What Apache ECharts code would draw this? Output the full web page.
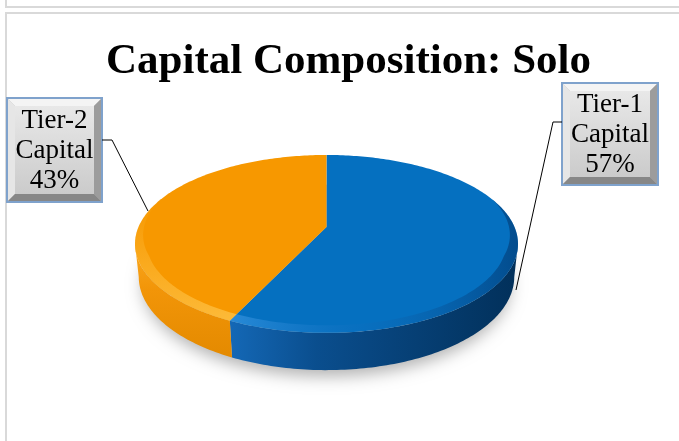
<!DOCTYPE html>
<html>
<head>
<meta charset="utf-8">
<script src="https://cdn.jsdelivr.net/npm/echarts@6/dist/echarts.min.js"></script>
<style>
html, body { margin: 0; padding: 0; background: #fff; }
#chart { width: 679px; height: 441px; }
</style>
</head>
<body>
<div id="chart"></div>
<script>
var chart = echarts.init(document.getElementById('chart'));

// data
var categories = ['Tier-1 Capital', 'Tier-2 Capital'];
var values = [57, 43];
var titleText = 'Capital Composition: Solo';

var total = values.reduce(function (a, b) { return a + b; }, 0);

// 3D pie with a little perspective (angles clockwise from 12 o'clock)
var cx = 326.5, cy = 227, R = 188, H = 37;
var sinP = 0.456, cosP = 0.89, K = 4.68 * R;

var topColors = ['#0570c0', '#f79800'];
var sideFills = [
    new echarts.graphic.LinearGradient(0, 0, 1, 0, [
        { offset: 0, color: '#1468b6' },
        { offset: 0.3, color: '#0a4e8e' },
        { offset: 1, color: '#02305a' }
    ]),
    new echarts.graphic.LinearGradient(0, 0, 0, 1, [
        { offset: 0, color: '#fbaa22' },
        { offset: 0.4, color: '#f29508' },
        { offset: 1, color: '#e48a00' }
    ])
];
var rimFills = [
    new echarts.graphic.LinearGradient(0, 0, 1, 0, [
        { offset: 0, color: 'rgba(70,160,235,0.55)' },
        { offset: 0.45, color: 'rgba(20,110,190,0.2)' },
        { offset: 1, color: 'rgba(0,40,90,0.5)' }
    ]),
    new echarts.graphic.LinearGradient(0, 0, 0, 1, [
        { offset: 0, color: 'rgba(255,200,80,0)' },
        { offset: 1, color: 'rgba(255,200,80,0.7)' }
    ])
];

function proj(a, down, r) {
    r = r || R;
    var X = r * Math.sin(a), Z = -r * Math.cos(a);
    var d = Z * cosP - down * sinP;
    var sc = K / (K - d);
    return [cx + X * sc, cy + (Z * sinP + down * cosP) * sc];
}
function arc(a0, a1, down, r) {
    var n = Math.max(2, Math.ceil(Math.abs(a1 - a0) / (Math.PI / 180)));
    var pts = [];
    for (var k = 0; k <= n; k++) {
        var a = a0 + (a1 - a0) * k / n;
        pts.push(proj(a, down, typeof r === 'function' ? r(a) : r));
    }
    return pts;
}
// silhouette angles (left/right extremes of the cylinder)
function extreme(from, to, sign) {
    var best = from, bx = -Infinity;
    for (var a = from; a <= to; a += 0.002) {
        var x = sign * proj(a, H / 2)[0];
        if (x > bx) { bx = x; best = a; }
    }
    return best;
}
var wallFrom = extreme(Math.PI / 2 - 0.5, Math.PI / 2 + 0.5, 1);
var wallTo = extreme(Math.PI * 1.5 - 0.5, Math.PI * 1.5 + 0.5, -1);

// rim width tapers to nothing at the back
var rimFrom = Math.PI / 2 - 0.35, rimTo = Math.PI * 1.5 + 0.35;
function rimInner(a) {
    var t = Math.min(1, (a - rimFrom) / 0.7, (rimTo - a) / 0.7);
    return R - 11 * Math.max(0, t);
}

function renderItem(params, api) {
    var i = params.dataIndex;
    var before = 0;
    for (var j = 0; j < i; j++) before += values[j];
    var a0 = before / total * Math.PI * 2;
    var a1 = (before + api.value(0)) / total * Math.PI * 2;
    var children = [];

    if (i === 0) {
        // soft shadow under the whole pie
        children.push({
            type: 'polygon', z2: 0,
            shape: { points: arc(0, Math.PI * 2, H, R - 4) },
            style: { fill: '#c8c8c8', shadowBlur: 16, shadowColor: 'rgba(0,0,0,0.3)', shadowOffsetY: 9 }
        });
    }

    // outer wall, visible part only
    var s = Math.max(a0, wallFrom), e = Math.min(a1, wallTo);
    if (s < e) {
        children.push({
            type: 'polygon', z2: 2,
            shape: { points: arc(s, e, 0).concat(arc(e, s, H)) },
            style: { fill: sideFills[i] }
        });
    }

    // top face
    children.push({
        type: 'polygon', z2: 5,
        shape: { points: [proj(0, 0, 0.0001)].concat(arc(a0, a1, 0)) },
        style: { fill: topColors[i] }
    });

    // bevel rim on the front edge of the top face
    var rs = Math.max(a0, rimFrom), re = Math.min(a1, rimTo);
    if (rs < re) {
        children.push({
            type: 'polygon', z2: 6,
            shape: { points: arc(rs, re, 0).concat(arc(re, rs, 0, rimInner)) },
            style: { fill: rimFills[i] }
        });
    }

    return { type: 'group', children: children };
}

// bevelled label box
function labelBox(x, y, w, h, text) {
    var b = 8;
    return {
        type: 'group',
        z: 10,
        children: [
            { type: 'rect', shape: { x: x, y: y, width: w, height: h },
              style: { fill: '#bdbdbd' } },
            { type: 'polygon', shape: { points: [[x, y], [x + w, y], [x + w - b, y + b], [x + b, y + b]] },
              style: { fill: '#f4f4f4' } },
            { type: 'polygon', shape: { points: [[x, y], [x + b, y + b], [x + b, y + h - b], [x, y + h]] },
              style: { fill: '#e6e6e6' } },
            { type: 'polygon', shape: { points: [[x + w, y], [x + w, y + h], [x + w - b, y + h - b], [x + w - b, y + b]] },
              style: { fill: '#9c9c9c' } },
            { type: 'polygon', shape: { points: [[x, y + h], [x + w, y + h], [x + w - b, y + h - b], [x + b, y + h - b]] },
              style: { fill: '#878787' } },
            { type: 'rect', shape: { x: x + b, y: y + b, width: w - 2 * b, height: h - 2 * b },
              style: { fill: new echarts.graphic.LinearGradient(0, 0, 0, 1, [
                  { offset: 0, color: '#e8e8e8' },
                  { offset: 1, color: '#cbcbcb' }
              ]) } },
            { type: 'rect', shape: { x: x, y: y, width: w, height: h },
              style: { fill: 'none', stroke: '#7fa2cc', lineWidth: 2 } },
            { type: 'text', x: x + w / 2, y: y + h / 2 + 1,
              style: { text: text, fill: '#000', font: '27px "Liberation Serif"',
                       align: 'center', verticalAlign: 'middle', lineHeight: 30 } }
        ]
    };
}

function labelText(i) {
    return categories[i].replace(' ', '\n') + '\n' + Math.round(values[i] / total * 100) + '%';
}

var option = {
    animation: false,
    backgroundColor: '#fff',
    title: {
        text: titleText,
        left: 101,
        top: 35,
        textStyle: {
            fontFamily: 'Liberation Serif',
            fontWeight: 'bold',
            fontSize: 43,
            color: '#000'
        }
    },
    graphic: [
        // page frame lines
        { type: 'polyline', shape: { points: [[6, 0], [6, 7], [679, 7]] },
          style: { stroke: '#d9d9d9', lineWidth: 2, fill: 'none' } },
        { type: 'polyline', shape: { points: [[6, 441], [6, 13], [679, 13]] },
          style: { stroke: '#d9d9d9', lineWidth: 2, fill: 'none' } },
        // leader lines
        { type: 'polyline', z: 9, shape: { points: [[102, 140], [112, 140], [148, 211]] },
          style: { stroke: '#000', lineWidth: 1, fill: 'none' } },
        { type: 'polyline', z: 9, shape: { points: [[562, 122], [553, 122], [516, 290]] },
          style: { stroke: '#000', lineWidth: 1, fill: 'none' } },
        labelBox(7, 98, 95, 104, labelText(1)),
        labelBox(562, 83, 96, 102, labelText(0))
    ],
    series: [{
        type: 'custom',
        coordinateSystem: 'none',
        renderItem: renderItem,
        data: values.map(function (v, i) { return { name: categories[i], value: v }; })
    }]
};

chart.setOption(option);
</script>
</body>
</html>
